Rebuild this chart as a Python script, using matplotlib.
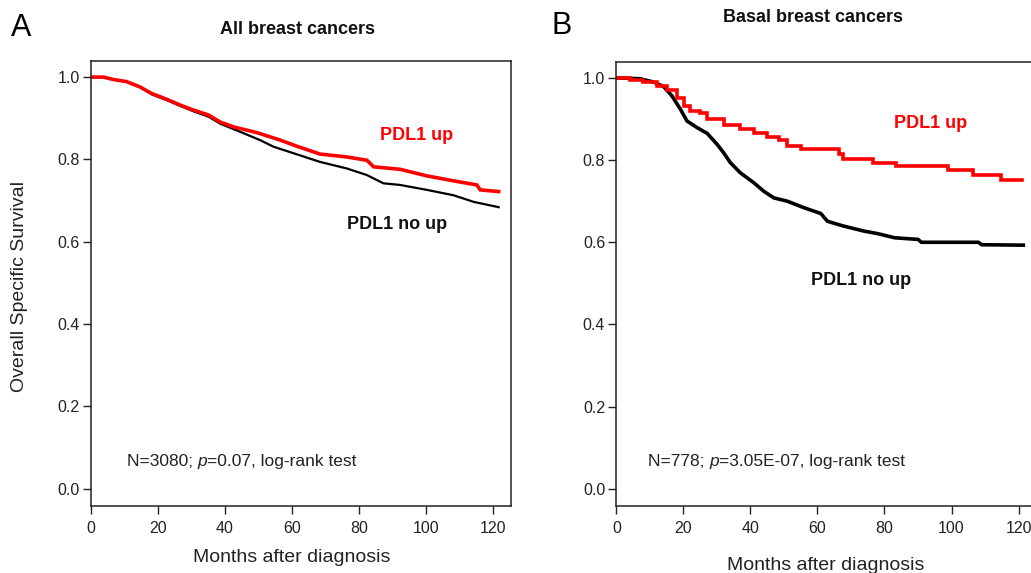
import matplotlib
matplotlib.use('Agg')
from matplotlib import pyplot as plt

plt.rcParams['font.family'] = ['Liberation Sans', 'DejaVu Sans']

# Panel A - all breast cancers (Kaplan-Meier)
months_a_up = [0, 3.8, 6.8, 10.7, 14.7, 18.2, 22.7, 26.7, 30.6, 35.1, 38.6, 42.6,
               49.6, 56.5, 61.5, 68.4, 76.4, 82.4, 84.4, 92.3, 100.3, 108.2,
               115.2, 116.2, 121.7]
surv_a_up = [1.0, 1.0, 0.994, 0.989, 0.976, 0.960, 0.946, 0.932, 0.920, 0.908,
             0.891, 0.879, 0.865, 0.847, 0.832, 0.813, 0.806, 0.798, 0.782,
             0.776, 0.760, 0.748, 0.738, 0.726, 0.722]

months_a_no = [0, 3.8, 6.8, 10.7, 14.7, 18.2, 22.7, 26.7, 30.6, 35.1, 38.6, 44.6,
               50.5, 54.5, 60.5, 68.4, 76.4, 82.4, 87.3, 92.3, 100.3, 108.2,
               114.2, 121.7]
surv_a_no = [1.0, 1.0, 0.994, 0.989, 0.976, 0.958, 0.944, 0.930, 0.917, 0.904,
             0.887, 0.867, 0.847, 0.831, 0.815, 0.794, 0.778, 0.762, 0.742,
             0.738, 0.726, 0.713, 0.697, 0.684]

# Panel B - basal breast cancers
months_b_up = [0, 4.1, 8.1, 12.1, 15.1, 18.1, 20.1, 22.1, 25.1, 27.1, 32, 37, 41,
               45, 48.5, 51, 55, 66.5, 67.5, 76.5, 83.4, 98.9, 106.4, 114.9, 120.9]
surv_b_up = [1.0, 0.995, 0.989, 0.980, 0.971, 0.952, 0.932, 0.920, 0.914, 0.899,
             0.885, 0.875, 0.867, 0.857, 0.850, 0.834, 0.826, 0.814, 0.802,
             0.794, 0.785, 0.775, 0.763, 0.751, 0.751]

months_b_no = [0, 7.1, 11.1, 14.1, 16.6, 19.1, 21.1, 24.1, 27.1, 30.1, 32, 34, 37,
               41, 44, 47, 51, 56, 61, 63, 68, 74, 78, 83, 90, 91, 108, 109, 121.4]
surv_b_no = [1.0, 0.998, 0.990, 0.979, 0.956, 0.924, 0.895, 0.879, 0.865, 0.838,
             0.818, 0.794, 0.769, 0.745, 0.724, 0.708, 0.700, 0.684, 0.670,
             0.651, 0.639, 0.627, 0.621, 0.611, 0.607, 0.600, 0.600, 0.594, 0.593]

panels = [
    dict(title='All breast cancers', stats_n='N=3080; ', stats_p='=0.07, log-rank test',
         up=(months_a_up, surv_a_up), no=(months_a_no, surv_a_no),
         up_xy=(86.4, 0.859), no_xy=(76.5, 0.643), no_lw=1.6,
         up_style='default', stats_x=10.7),
    dict(title='Basal breast cancers', stats_n='N=778; ', stats_p='=3.05E-07, log-rank test',
         up=(months_b_up, surv_b_up), no=(months_b_no, surv_b_no),
         up_xy=(82.8, 0.888), no_xy=(58, 0.507), no_lw=2.6,
         up_style='steps-post', stats_x=9.4),
]

fig = plt.figure(figsize=(10.31, 5.73), dpi=100)
ax_a = fig.add_axes([0.088, 0.1175, 0.4077, 0.776])
ax_b = fig.add_axes([0.5978, 0.1175, 0.4077, 0.7745])

for ax, p in zip([ax_a, ax_b], panels):
    ax.plot(*p['no'], color='black', lw=p['no_lw'], solid_joinstyle='miter')
    ax.plot(*p['up'], drawstyle=p['up_style'], color='red', lw=2.6, solid_joinstyle='miter')
    ax.set_xlim(0, 125.4)
    ax.set_ylim(-0.041, 1.039)
    ax.set_xticks(range(0, 121, 20))
    ax.set_yticks([0, 0.2, 0.4, 0.6, 0.8, 1.0])
    ax.set_yticklabels(['0.0', '0.2', '0.4', '0.6', '0.8', '1.0'])
    ax.tick_params(length=6, width=1, labelsize=11.5, color='#222222', labelcolor='#222222')
    ax.tick_params(axis='x', pad=5)
    ax.tick_params(axis='y', pad=2)
    for s in ax.spines.values():
        s.set_linewidth(1.1)
        s.set_color('#222222')
    ax.text(p['up_xy'][0], p['up_xy'][1], 'PDL1 up', color='red', fontsize=13,
            fontweight='bold', va='center')
    ax.text(p['no_xy'][0], p['no_xy'][1], 'PDL1 no up', color='#111111', fontsize=13,
            fontweight='bold', va='center')

    # stats annotation with italic p
    t = ax.text(p['stats_x'], 0.066, p['stats_n'], fontsize=12.5, va='center', color='#222222')
    t2 = ax.annotate('p', xycoords=t, xy=(1, 0.5), va='center', fontsize=12.5,
                     style='italic', color='#222222')
    ax.annotate(p['stats_p'], xycoords=t2, xy=(1, 0.5), va='center', fontsize=12.5,
                color='#222222')

# titles, panel letters, axis labels
fig.text(297 / 1031, 1 - 29.5 / 573, 'All breast cancers', ha='center', va='center',
         fontsize=13, fontweight='bold', color='#111111')
fig.text(813 / 1031, 1 - 18 / 573, 'Basal breast cancers', ha='center', va='center',
         fontsize=13, fontweight='bold', color='#111111')
fig.text(21 / 1031, 1 - 28 / 573, 'A', ha='center', va='center', fontsize=22)
fig.text(562 / 1031, 1 - 26.5 / 573, 'B', ha='center', va='center', fontsize=22)
fig.text(292 / 1031, 1 - 558 / 573, 'Months after diagnosis', ha='center', va='center',
         fontsize=14, color='#222222')
fig.text(826 / 1031, 1 - 566 / 573, 'Months after diagnosis', ha='center', va='center',
         fontsize=14, color='#222222')
fig.text(20 / 1031, 1 - 286 / 573, 'Overall Specific Survival', ha='center', va='center',
         rotation=90, fontsize=14, color='#222222')

fig.savefig('out.png', dpi=100)
